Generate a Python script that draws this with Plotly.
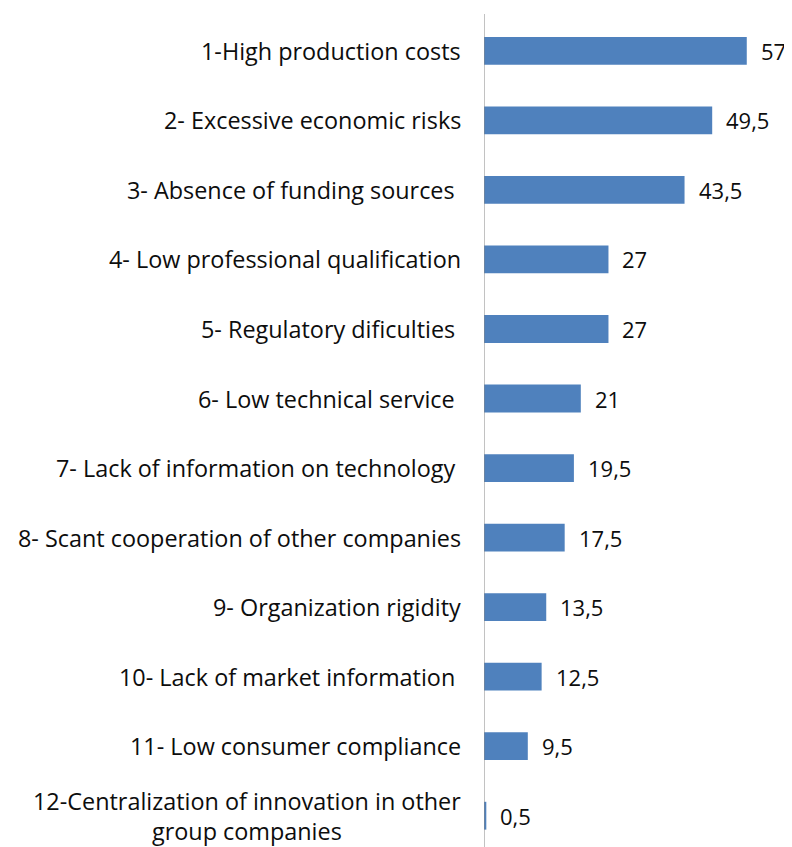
import plotly.graph_objects as go

categories = [
    "1-High production costs",
    "2- Excessive economic risks",
    "3- Absence of funding sources ",
    "4- Low professional qualification",
    "5- Regulatory dificulties ",
    "6- Low technical service ",
    "7- Lack of information on technology ",
    "8- Scant cooperation of other companies",
    "9- Organization rigidity",
    "10- Lack of market information ",
    "11- Low consumer compliance",
    "12-Centralization of innovation in other<br>group companies",
]
values = [57, 49.5, 43.5, 27, 27, 21, 19.5, 17.5, 13.5, 12.5, 9.5, 0.5]

def fmt(v):
    return str(int(v)) if float(v).is_integer() else str(v).replace(".", ",")

labels = [fmt(v) for v in values]
ypos = list(range(len(categories)))

FONT = "'Open Sans', Lato, sans-serif"
TXT = "#0d0d0d"

fig = go.Figure(go.Bar(
    x=values, y=ypos, orientation="h",
    marker=dict(color="#4F81BD", line=dict(width=0)),
    width=0.4, hoverinfo="skip",
))

annotations = []
for yi, v, lab in zip(ypos, values, labels):
    annotations.append(dict(x=v, y=yi, xref="x", yref="y", text=lab,
                            showarrow=False, xanchor="left", yanchor="middle",
                            xshift=12, font=dict(family=FONT, size=22, color=TXT)))
for yi, cat in zip(ypos, categories):
    annotations.append(dict(x=0, y=yi, xref="paper", yref="y", text=cat,
                            showarrow=False, xanchor="right", yanchor="middle",
                            align="center", xshift=-21,
                            font=dict(family=FONT, size=23.4, color=TXT)))

fig.update_layout(
    width=784, height=839,
    margin=dict(l=476, r=0, t=6, b=0),
    paper_bgcolor="white", plot_bgcolor="white",
    showlegend=False,
    xaxis=dict(range=[0, 308 / 4.61], visible=False, fixedrange=True),
    yaxis=dict(range=[11.45, -0.53], showticklabels=False, showgrid=False,
               zeroline=False, ticks="", showline=False),
    shapes=[dict(type="line", xref="x", yref="paper", x0=0, x1=0, y0=0, y1=1,
                 line=dict(color="#868686", width=1))],
    annotations=annotations,
)

fig.write_html("out.html")
